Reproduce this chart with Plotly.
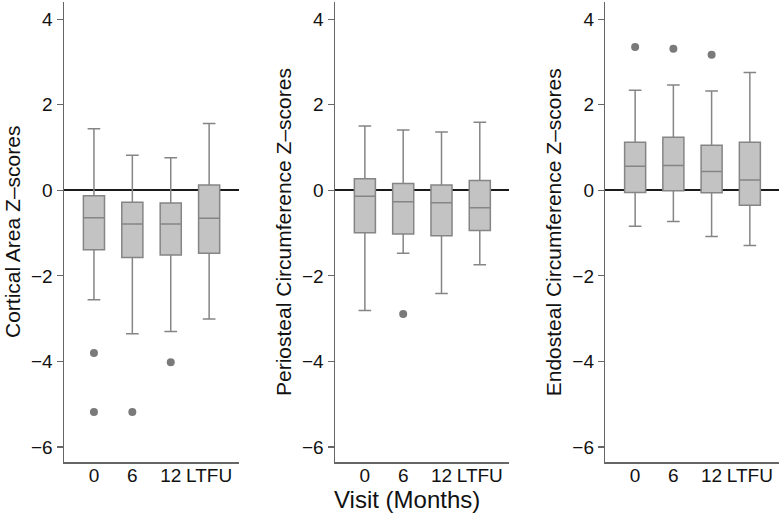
import plotly.graph_objects as go

visits = ["0", "6", "12", "LTFU"]

# Cortical Area Z-scores
ca_q1 = [-1.39, -1.57, -1.51, -1.47]
ca_med = [-0.64, -0.79, -0.79, -0.655]
ca_q3 = [-0.125, -0.28, -0.30, 0.125]
ca_lo = [-2.56, -3.35, -3.30, -3.01]
ca_hi = [1.44, 0.82, 0.76, 1.56]
ca_out_x = ["0", "0", "6", "12"]
ca_out_y = [-3.80, -5.18, -5.18, -4.02]

# Periosteal Circumference Z-scores
pc_q1 = [-0.99, -1.02, -1.06, -0.94]
pc_med = [-0.14, -0.27, -0.29, -0.41]
pc_q3 = [0.27, 0.16, 0.125, 0.23]
pc_lo = [-2.81, -1.47, -2.41, -1.74]
pc_hi = [1.50, 1.41, 1.36, 1.59]
pc_out_x = ["6"]
pc_out_y = [-2.89]

# Endosteal Circumference Z-scores
ec_q1 = [-0.05, -0.01, -0.06, -0.35]
ec_med = [0.56, 0.58, 0.44, 0.24]
ec_q3 = [1.12, 1.24, 1.05, 1.12]
ec_lo = [-0.84, -0.73, -1.08, -1.29]
ec_hi = [2.34, 2.46, 2.32, 2.75]
ec_out_x = ["0", "6", "12"]
ec_out_y = [3.35, 3.31, 3.17]

y_titles = ["Cortical Area Z\u2013scores",
            "Periosteal Circumference Z\u2013scores",
            "Endosteal Circumference Z\u2013scores"]
x_title = "Visit (Months)"
y_ticks = [-6, -4, -2, 0, 2, 4]
y_ticktext = ["\u22126", "\u22124", "\u22122", "0", "2", "4"]

W, H = 783, 514
FONT = "Liberation Sans, Arial, Helvetica, sans-serif"
FILL = "#c3c3c3"
LINE = "#858585"
PT = "#7a7a7a"

panels = [
    (ca_q1, ca_med, ca_q3, ca_lo, ca_hi, ca_out_x, ca_out_y),
    (pc_q1, pc_med, pc_q3, pc_lo, pc_hi, pc_out_x, pc_out_y),
    (ec_q1, ec_med, ec_q3, ec_lo, ec_hi, ec_out_x, ec_out_y),
]
domains_px = [(64, 238.7), (335, 509.3), (605.3, 779.3)]

fig = go.Figure()
for i, (q1, med, q3, lo, hi, ox, oy) in enumerate(panels):
    xa = "x" if i == 0 else f"x{i+1}"
    ya = "y" if i == 0 else f"y{i+1}"
    fig.add_trace(go.Box(
        x=visits, q1=q1, median=med, q3=q3, lowerfence=lo, upperfence=hi,
        fillcolor=FILL, line=dict(color=LINE, width=1.5),
        width=0.55, whiskerwidth=0.6, boxpoints=False,
        xaxis=xa, yaxis=ya, showlegend=False, hoverinfo="skip"))
    fig.add_trace(go.Scatter(
        x=ox, y=oy, mode="markers",
        marker=dict(color=PT, size=8, line=dict(width=0)),
        xaxis=xa, yaxis=ya, showlegend=False, hoverinfo="skip"))

layout = dict(
    width=W, height=H,
    margin=dict(l=0, r=0, t=2, b=52),
    paper_bgcolor="white", plot_bgcolor="white",
    font=dict(family=FONT, size=19, color="#111111"),
    showlegend=False,
)
for i, (a, b) in enumerate(domains_px):
    xk = "xaxis" if i == 0 else f"xaxis{i+1}"
    yk = "yaxis" if i == 0 else f"yaxis{i+1}"
    ya = "y" if i == 0 else f"y{i+1}"
    xa = "x" if i == 0 else f"x{i+1}"
    layout[xk] = dict(
        domain=[a / W, b / W], anchor=ya, type="category",
        categoryorder="array", categoryarray=visits,
        range=[-0.78, 3.77], showgrid=False, zeroline=False,
        showline=True, linecolor="#666666", linewidth=1.5,
        ticks="", ticklabelstandoff=-4,
        tickfont=dict(size=19, color="#111111"),
        fixedrange=True)
    layout[yk] = dict(
        domain=[0, 1], anchor=xa, range=[-6.35, 4.4],
        tickvals=y_ticks, ticktext=y_ticktext,
        showgrid=False, zeroline=True, zerolinecolor="#1a1a1a", zerolinewidth=2,
        showline=True, linecolor="#666666", linewidth=1.5,
        ticks="outside", ticklen=6, tickcolor="#666666", tickwidth=1.2,
        tickfont=dict(size=19, color="#111111"), fixedrange=True)
fig.update_layout(**layout)

plot_top, plot_bot = 2, H - 52
annotations = []
for i, (a, b) in enumerate(domains_px):
    annotations.append(dict(
        text=y_titles[i], textangle=-90, xref="paper", yref="paper",
        x=(a - 52) / W, y=0.5, xanchor="center", yanchor="middle",
        showarrow=False, font=dict(size=21, color="#111111", family=FONT)))
annotations.append(dict(
    text=x_title, xref="paper", yref="paper",
    x=407 / W, y=-(499 - plot_bot) / (plot_bot - plot_top),
    xanchor="center", yanchor="middle", showarrow=False,
    font=dict(size=24, color="#111111", family=FONT)))
fig.update_layout(annotations=annotations)

fig.write_html("out.html",
               config={"displayModeBar": False, "staticPlot": True},
               post_script="document.body.style.margin='0px';document.body.style.overflow='hidden';")
